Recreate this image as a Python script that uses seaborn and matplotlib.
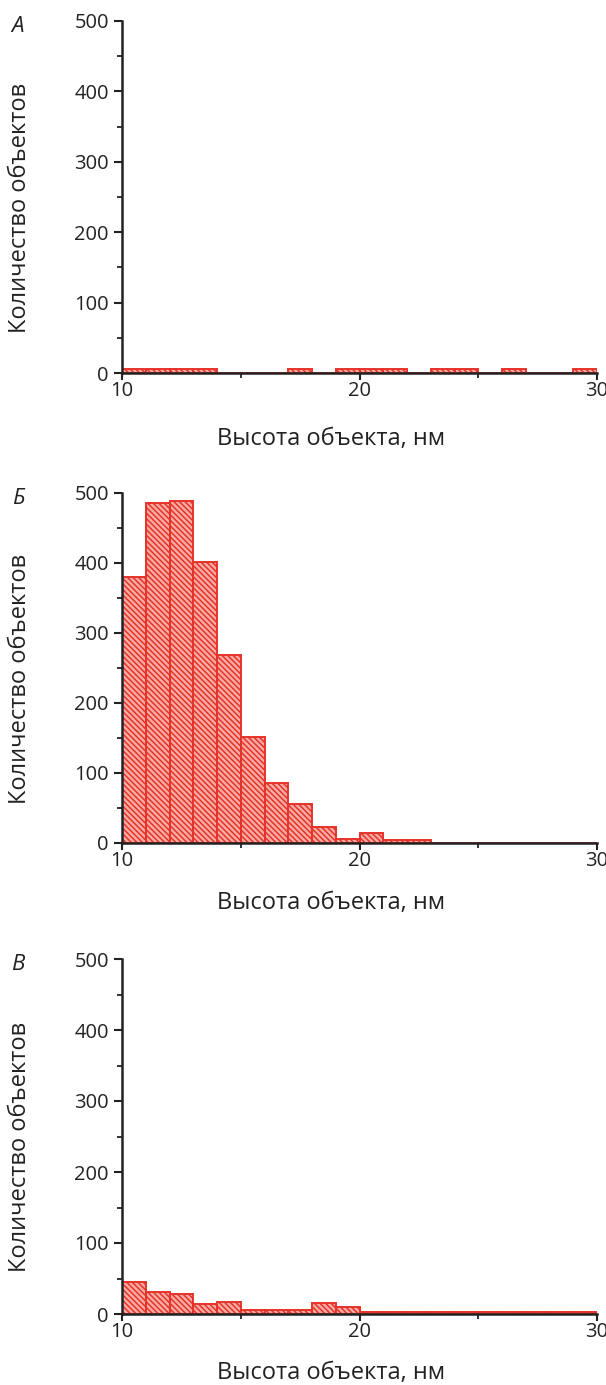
import numpy as np
import matplotlib
matplotlib.use("Agg")
import matplotlib.pyplot as plt
from matplotlib.ticker import MultipleLocator
import seaborn as sns

# --- данные ---
bin_left = [10, 11, 12, 13, 14, 15, 16, 17, 18, 19,
            20, 21, 22, 23, 24, 25, 26, 27, 28, 29]
bin_edges = [10, 11, 12, 13, 14, 15, 16, 17, 18, 19,
             20, 21, 22, 23, 24, 25, 26, 27, 28, 29, 30]

counts_a = [5, 5, 5, 5, 0, 0, 0, 5, 0, 5,
            5, 5, 0, 5, 5, 0, 5, 0, 0, 5]
counts_b = [380, 486, 488, 401, 269, 152, 86, 56, 23, 6,
            14, 4, 4, 0, 0, 0, 0, 0, 0, 0]
counts_c = [45, 31, 28, 14, 17, 6, 6, 6, 15, 10,
            3, 3, 3, 3, 3, 3, 3, 3, 3, 3]

panel_letters = ["А", "Б", "В"]
y_ticks = [0, 100, 200, 300, 400, 500]
x_ticks = [10, 20, 30]
xlabel = "Высота объекта, нм"
ylabel = "Количество объектов"

RED = "#e6332a"
FILL = "#f7aba3"
INK = "#222222"

sns.set_style("ticks")
plt.rcParams['font.family'] = ['Open Sans', 'DejaVu Sans']
plt.rcParams['hatch.linewidth'] = 1.1

W, H = 606, 1385
fig = plt.figure(figsize=(W / 100, H / 100), dpi=100)

# (top, bottom) в пикселях для каждой панели
panels = [(21, 373, counts_a, 66), (493, 843, counts_b, 60), (959, 1314, counts_c, 59)]
left_px, right_px = 122, 597

for i, (top, bottom, counts, xl_off) in enumerate(panels):
    ax = fig.add_axes([left_px / W, 1 - bottom / H,
                       (right_px - left_px) / W, (bottom - top) / H])
    sns.histplot(x=bin_left, weights=counts, bins=bin_edges, ax=ax,
                 color=FILL, edgecolor=RED, linewidth=1.4, alpha=1,
                 hatch='\\\\\\\\\\\\')
    ax.set_xlim(10, 30)
    ax.set_ylim(0, 500)
    ax.set_xticks(x_ticks)
    ax.set_yticks(y_ticks)
    ax.xaxis.set_minor_locator(MultipleLocator(5))
    ax.yaxis.set_minor_locator(MultipleLocator(50))
    ax.tick_params(which='major', length=6, width=1.5, labelsize=14.5,
                   direction='out', colors=INK)
    ax.tick_params(which='minor', length=3.5, width=1.3, direction='out',
                   colors=INK)
    ax.tick_params(axis='x', which='major', length=5, pad=1)
    for s in ['top', 'right']:
        ax.spines[s].set_visible(False)
    for s in ['left', 'bottom']:
        ax.spines[s].set_linewidth(1.8)
        ax.spines[s].set_color(INK)
        ax.spines[s].set_zorder(5)

    ax.set_ylabel(ylabel, fontsize=17, color=INK)
    ax.yaxis.set_label_coords((20 - left_px) / (right_px - left_px), 0.47)
    ax.set_xlabel(xlabel, fontsize=17, color=INK)
    ax.xaxis.set_label_coords(0.44, -xl_off / (bottom - top))
    ax.xaxis.label.set_va('center')
    ax.yaxis.label.set_va('center')

    fig.text(18 / W, 1 - (top + 6) / H, panel_letters[i], fontsize=16,
             style='italic', ha='center', va='center', color=INK)

fig.savefig("out.png", dpi=100)
